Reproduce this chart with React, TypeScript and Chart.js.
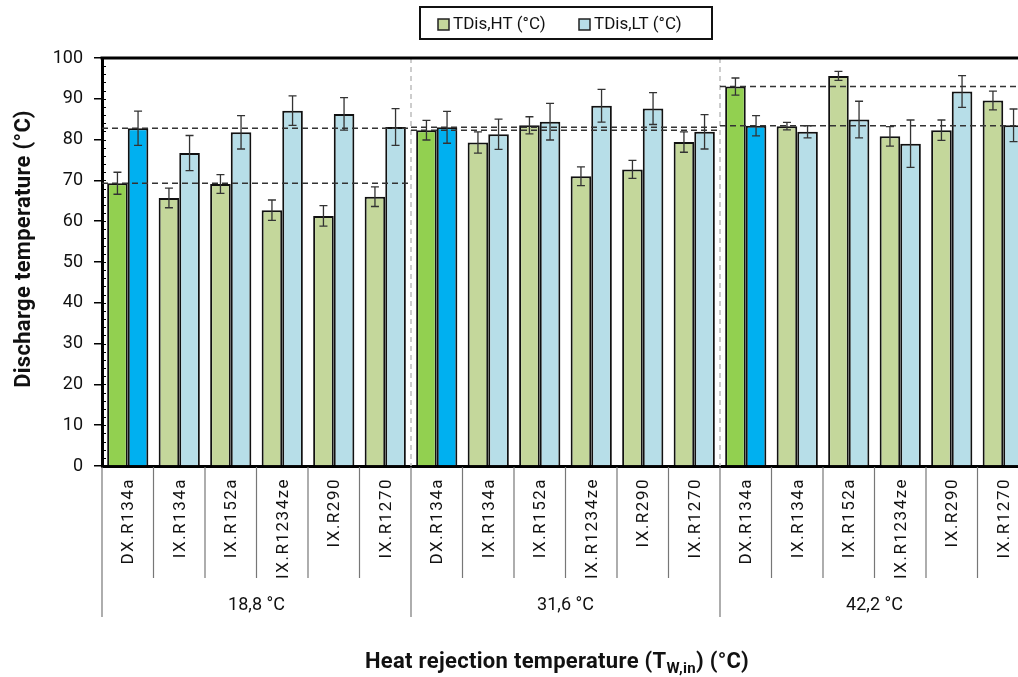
import React, { useEffect, useRef } from "react";
import { Chart, registerables } from "chart.js";

Chart.register(...registerables);

const categories = [
  "DX.R134a", "IX.R134a", "IX.R152a", "IX.R1234ze", "IX.R290", "IX.R1270",
  "DX.R134a", "IX.R134a", "IX.R152a", "IX.R1234ze", "IX.R290", "IX.R1270",
  "DX.R134a", "IX.R134a", "IX.R152a", "IX.R1234ze", "IX.R290", "IX.R1270",
];
const groupLabels = ["18,8 °C", "31,6 °C", "42,2 °C"];
const groupSize = 6;

const htLabel = "TDis,HT (°C)";
const ltLabel = "TDis,LT (°C)";

const htValues = [69.3, 65.7, 69.1, 62.7, 61.3, 66.0, 82.3, 79.3, 83.5, 71.0, 72.7, 79.4, 93.0, 83.3, 95.6, 80.8, 82.3, 89.6];
const htErrors = [2.7, 2.4, 2.3, 2.5, 2.5, 2.4, 2.4, 2.6, 2.1, 2.3, 2.2, 2.5, 2.1, 0.9, 1.1, 2.4, 2.5, 2.3];
const ltValues = [82.8, 76.7, 81.8, 87.1, 86.3, 83.1, 83.0, 81.3, 84.4, 88.3, 87.6, 81.9, 83.4, 81.9, 84.9, 79.0, 91.8, 83.5];
const ltErrors = [4.2, 4.3, 4.1, 3.6, 4.0, 4.5, 3.9, 3.7, 4.5, 4.0, 3.9, 4.2, 2.5, 1.5, 4.5, 5.8, 3.9, 4.0];

const yMin = 0;
const yMax = 100;
const yStep = 10;
const yMinorStep = 2;

const yTitle = "Discharge temperature (°C)";
const xTitleMain = "Heat rejection temperature (T";
const xTitleSub = "W,in";
const xTitleEnd = ") (°C)";

const HT_DX = "#92D050";
const HT_IX = "#C4D79B";
const LT_DX = "#00B0F0";
const LT_IX = "#B7DEE8";

const FONT = "Roboto, 'DejaVu Sans', sans-serif";

const decorPlugin = {
  id: "decor",
  afterDatasetsDraw(chart: any) {
    const ctx = chart.ctx as CanvasRenderingContext2D;
    const x = chart.scales.x;
    const y = chart.scales.y;
    const area = chart.chartArea;
    const nGroups = Math.ceil(categories.length / groupSize);

    // vertical dashed group separators inside plot
    ctx.save();
    ctx.strokeStyle = "#bdbdbd";
    ctx.lineWidth = 1.5;
    ctx.setLineDash([5, 4]);
    for (let g = 1; g < nGroups; g++) {
      const i = g * groupSize;
      const px = (x.getPixelForValue(i - 1) + x.getPixelForValue(i)) / 2;
      ctx.beginPath();
      ctx.moveTo(px, area.top);
      ctx.lineTo(px, area.bottom);
      ctx.stroke();
    }
    ctx.restore();

    // horizontal dashed reference lines (DX values per group)
    ctx.save();
    ctx.strokeStyle = "#333";
    ctx.lineWidth = 1.5;
    ctx.setLineDash([6, 4]);
    for (let g = 0; g < nGroups; g++) {
      const first = g * groupSize;
      const last = Math.min(first + groupSize, categories.length) - 1;
      const left = g === 0 ? area.left : (x.getPixelForValue(first - 1) + x.getPixelForValue(first)) / 2;
      const step = x.getPixelForValue(1) - x.getPixelForValue(0);
      const right = x.getPixelForValue(last) + step / 2;
      for (const v of [htValues[first], ltValues[first]]) {
        const py = y.getPixelForValue(v);
        ctx.beginPath();
        ctx.moveTo(left, py);
        ctx.lineTo(right, py);
        ctx.stroke();
      }
    }
    ctx.restore();

    // error bars
    ctx.save();
    ctx.strokeStyle = "#333";
    ctx.lineWidth = 1.3;
    const sets = [
      { vals: htValues, errs: htErrors, idx: 0 },
      { vals: ltValues, errs: ltErrors, idx: 1 },
    ];
    for (const s of sets) {
      const meta = chart.getDatasetMeta(s.idx);
      meta.data.forEach((bar: any, i: number) => {
        const cx = bar.x;
        const top = y.getPixelForValue(s.vals[i] + s.errs[i]);
        const bot = y.getPixelForValue(s.vals[i] - s.errs[i]);
        ctx.beginPath();
        ctx.moveTo(cx, top);
        ctx.lineTo(cx, bot);
        ctx.moveTo(cx - 4, top);
        ctx.lineTo(cx + 4, top);
        ctx.moveTo(cx - 4, bot);
        ctx.lineTo(cx + 4, bot);
        ctx.stroke();
      });
    }
    ctx.restore();
  },
  afterDraw(chart: any) {
    const ctx = chart.ctx as CanvasRenderingContext2D;
    const x = chart.scales.x;
    const y = chart.scales.y;
    const area = chart.chartArea;
    const nGroups = Math.ceil(categories.length / groupSize);
    const step = x.getPixelForValue(1) - x.getPixelForValue(0);

    // top border
    ctx.save();
    ctx.strokeStyle = "#000";
    ctx.lineWidth = 3;
    ctx.beginPath();
    ctx.moveTo(area.left - 1.5, area.top);
    ctx.lineTo(area.right, area.top);
    ctx.stroke();
    ctx.restore();

    // minor ticks on y axis (inside)
    ctx.save();
    ctx.strokeStyle = "#000";
    ctx.lineWidth = 1;
    for (let v = yMin + yMinorStep; v < yMax; v += yMinorStep) {
      const py = Math.round(y.getPixelForValue(v)) + 0.5;
      ctx.beginPath();
      ctx.moveTo(area.left, py);
      ctx.lineTo(area.left + 4, py);
      ctx.stroke();
    }
    ctx.restore();

    // separators below axis
    ctx.save();
    ctx.strokeStyle = "#777";
    ctx.lineWidth = 1.2;
    for (let i = 0; i <= categories.length; i++) {
      const px = i === 0 ? area.left : x.getPixelForValue(i - 1) + step / 2;
      const isGroup = i % groupSize === 0;
      ctx.beginPath();
      ctx.moveTo(px, area.bottom + 1);
      ctx.lineTo(px, isGroup ? area.bottom + 151 : area.bottom + 112);
      ctx.stroke();
    }
    ctx.restore();

    // category labels (rotated)
    ctx.save();
    ctx.fillStyle = "#111";
    ctx.font = `17px ${FONT}`;
    (ctx as any).letterSpacing = "1.5px";
    categories.forEach((lab, i) => {
      const px = x.getPixelForValue(i);
      ctx.save();
      ctx.translate(px, area.bottom + 12);
      ctx.rotate(-Math.PI / 2);
      ctx.textAlign = "right";
      ctx.textBaseline = "middle";
      ctx.fillText(lab, 0, 1);
      ctx.restore();
    });
    ctx.restore();

    // group labels
    ctx.save();
    ctx.fillStyle = "#111";
    ctx.font = `18px ${FONT}`;
    ctx.textAlign = "center";
    ctx.textBaseline = "middle";
    for (let g = 0; g < nGroups; g++) {
      const first = g * groupSize;
      const last = first + groupSize - 1;
      const cx = (x.getPixelForValue(first) + x.getPixelForValue(last)) / 2;
      ctx.fillText(groupLabels[g], cx, area.bottom + 139);
    }
    ctx.restore();

    // y title
    ctx.save();
    ctx.fillStyle = "#111";
    ctx.font = `bold 22px ${FONT}`;
    (ctx as any).letterSpacing = "0.3px";
    ctx.translate(24, 249);
    ctx.rotate(-Math.PI / 2);
    ctx.textAlign = "center";
    ctx.textBaseline = "middle";
    ctx.fillText(yTitle, 0, 0);
    ctx.restore();

    // x title with subscript
    ctx.save();
    ctx.fillStyle = "#111";
    (ctx as any).letterSpacing = "0.3px";
    const mainFont = `bold 22px ${FONT}`;
    const subFont = `bold 15px ${FONT}`;
    ctx.font = mainFont;
    const w1 = ctx.measureText(xTitleMain).width;
    const w3 = ctx.measureText(xTitleEnd).width;
    ctx.font = subFont;
    const w2 = ctx.measureText(xTitleSub).width;
    const total = w1 + w2 + w3;
    let sx = 557 - total / 2;
    const base = 668;
    ctx.textBaseline = "alphabetic";
    ctx.textAlign = "left";
    ctx.font = mainFont;
    ctx.fillText(xTitleMain, sx, base);
    sx += w1;
    ctx.font = subFont;
    ctx.fillText(xTitleSub, sx, base + 5);
    sx += w2;
    ctx.font = mainFont;
    ctx.fillText(xTitleEnd, sx, base);
    ctx.restore();

    // legend
    ctx.save();
    ctx.strokeStyle = "#111";
    ctx.lineWidth = 2;
    ctx.strokeRect(420, 7, 292, 32);
    ctx.font = `17px ${FONT}`;
    ctx.textBaseline = "middle";
    ctx.textAlign = "left";
    const items = [
      { label: htLabel, color: HT_IX, sx: 438 },
      { label: ltLabel, color: LT_IX, sx: 579 },
    ];
    for (const it of items) {
      ctx.fillStyle = it.color;
      ctx.fillRect(it.sx, 19, 11, 11);
      ctx.lineWidth = 1.5;
      ctx.strokeStyle = "#222";
      ctx.strokeRect(it.sx, 19, 11, 11);
      ctx.fillStyle = "#111";
      ctx.fillText(it.label, it.sx + 15, 24.5);
    }
    ctx.restore();
  },
};

export default function App() {
  const ref = useRef<HTMLCanvasElement | null>(null);

  useEffect(() => {
    document.body.style.margin = "0";
    document.body.style.overflow = "hidden";
    const canvas = ref.current;
    if (!canvas) return;
    const chart = new Chart(canvas, {
      type: "bar",
      data: {
        labels: categories,
        datasets: [
          {
            label: htLabel,
            data: htValues,
            backgroundColor: htValues.map((_, i) => (i % groupSize === 0 ? HT_DX : HT_IX)),
            borderColor: "#111",
            borderWidth: 2,
            categoryPercentage: 0.8,
            barPercentage: 1.0,
          },
          {
            label: ltLabel,
            data: ltValues,
            backgroundColor: ltValues.map((_, i) => (i % groupSize === 0 ? LT_DX : LT_IX)),
            borderColor: "#111",
            borderWidth: 2,
            categoryPercentage: 0.8,
            barPercentage: 1.0,
          },
        ],
      },
      options: {
        responsive: false,
        animation: false,
        layout: { padding: { top: 58, right: 11, left: 0, bottom: 0 } },
        plugins: {
          legend: { display: false },
          title: { display: false },
          tooltip: { enabled: false },
        },
        scales: {
          x: {
            grid: { display: false },
            ticks: { display: false },
            border: { display: true, color: "#000", width: 3 },
            afterFit: (s: any) => {
              s.height = 211;
            },
          },
          y: {
            min: yMin,
            max: yMax,
            ticks: {
              stepSize: yStep,
              color: "#111",
              font: { family: FONT, size: 18 },
              padding: 11,
            },
            grid: {
              display: true,
              drawOnChartArea: false,
              drawTicks: true,
              tickLength: 8,
              color: "#000",
              lineWidth: 1.5,
            },
            border: { display: true, color: "#000", width: 3 },
            afterFit: (s: any) => {
              s.width = 102;
            },
          },
        },
      },
      plugins: [decorPlugin],
    });
    return () => chart.destroy();
  }, []);

  return (
    <div style={{ width: 1018, height: 677, overflow: "hidden" }}>
      <canvas ref={ref} width={1040} height={677} style={{ display: "block" }} />
    </div>
  );
}
